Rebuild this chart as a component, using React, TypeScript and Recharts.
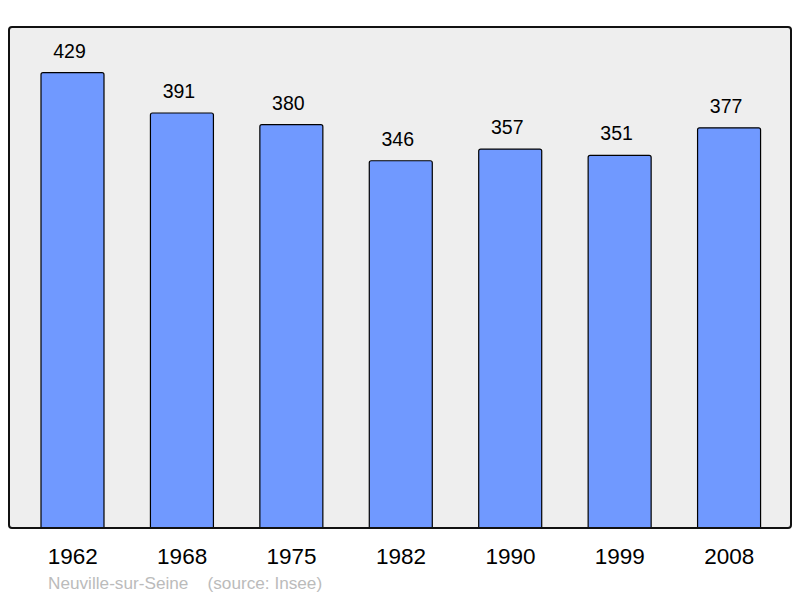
import React from "react";
import { BarChart, Bar, XAxis, YAxis, LabelList, CartesianGrid } from "recharts";

const years = ["1962", "1968", "1975", "1982", "1990", "1999", "2008"];
const population = [429, 391, 380, 346, 357, 351, 377];
const data = years.map((y, i) => ({ year: y, pop: population[i] }));

const FONT = "'Liberation Sans', Arial, sans-serif";

export default function App() {
  return (
    <div style={{ position: "absolute", left: 0, top: 0, width: 800, height: 598, fontFamily: FONT }}>
      <BarChart
        width={800}
        height={598}
        data={data}
        margin={{ top: 27, right: 9, left: 9, bottom: 0 }}
        barCategoryGap={0}
      >
        <CartesianGrid fill="#eeeeee" horizontal={false} vertical={false} stroke="none" />
        <YAxis hide domain={[0, 472]} />
        <XAxis
          dataKey="year"
          height={70}
          axisLine={false}
          tickLine={false}
          tickMargin={14}
          padding={{ left: 9, right: 7 }}
          tick={{ fill: "#000", fontSize: 22.5, fontFamily: FONT }}
          interval={0}
        />
        <Bar
          dataKey="pop"
          fill="#7099ff"
          stroke="#000"
          strokeWidth={1.2}
          barSize={63}
          radius={[2, 2, 0, 0]}
          isAnimationActive={false}
        >
          <LabelList
            dataKey="pop"
            position="top"
            offset={15}
            dx={-3}
            style={{ fill: "#000", fontSize: 19.5, fontFamily: FONT }}
          />
        </Bar>
      </BarChart>
      <div
        style={{
          position: "absolute",
          left: 8,
          top: 26,
          width: 784,
          height: 503,
          boxSizing: "border-box",
          border: "2px solid #111",
          borderRadius: 4,
          pointerEvents: "none",
        }}
      />
      <div
        style={{
          position: "absolute",
          left: 48,
          top: 573,
          fontSize: 17.2,
          color: "#bbbbbb",
          whiteSpace: "pre",
          fontFamily: FONT,
        }}
      >
        {"Neuville-sur-Seine    (source: Insee)"}
      </div>
    </div>
  );
}
